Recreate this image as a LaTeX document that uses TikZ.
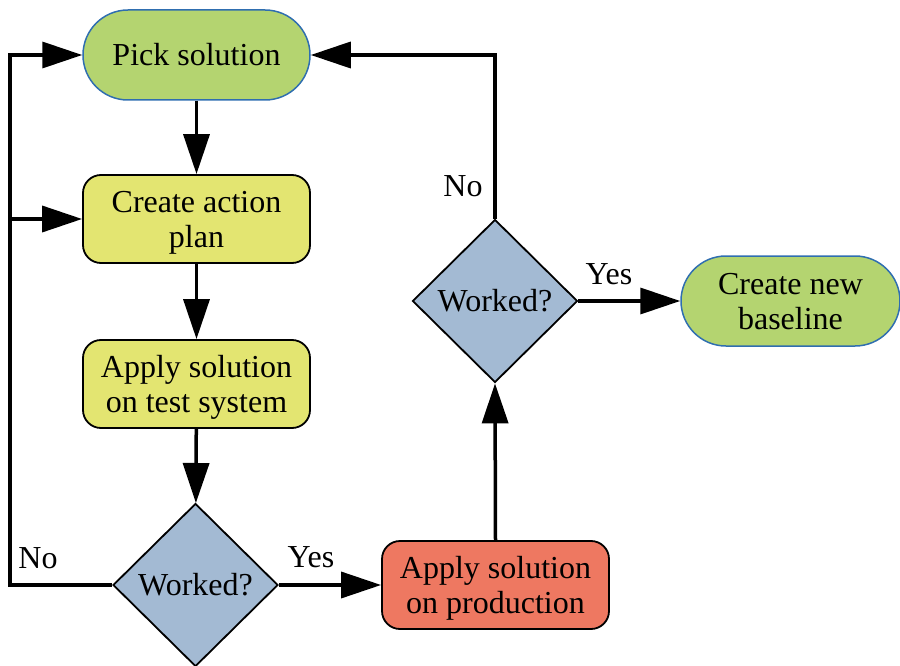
\documentclass[tikz,border=0pt]{standalone}
\usepackage{fontspec}
\setmainfont{Liberation Serif}
\usetikzlibrary{shapes.geometric,arrows.meta}

\definecolor{termgreen}{HTML}{B4D470}
\definecolor{termedge}{HTML}{2F6EB0}
\definecolor{stepyellow}{HTML}{E3E571}
\definecolor{decblue}{HTML}{A3BAD3}
\definecolor{prodred}{HTML}{EE7861}

\tikzset{
  every node/.style={font=\fontsize{32}{35}\selectfont, align=center, inner sep=0pt},
  twoline/.style={text height=63pt, text depth=7pt},
  terminal/.style={rectangle, rounded corners=45pt, minimum width=227pt, minimum height=90pt,
                   fill=termgreen, draw=termedge, line width=1.5pt},
  stepbox/.style={rectangle, rounded corners=18pt, minimum width=227pt, minimum height=88pt,
                  fill=stepyellow, draw=black, line width=1.8pt, twoline},
  decision/.style={diamond, minimum width=165pt, minimum height=163pt,
                   fill=decblue, draw=black, line width=1.8pt},
  arr/.style={line width=3.5pt, -{Triangle[length=40pt,width=26pt]}},
}

\begin{document}
\begin{tikzpicture}[x=1pt,y=-1pt]
  \useasboundingbox (0,0) rectangle (900,666);

  % process steps
  \node[terminal] (pick) at (196.5,55) {Pick solution};
  \node[stepbox] (plan) at (196.5,219) {Create action\\plan};
  \node[stepbox] (test) at (196.5,384) {Apply solution\\on test system};
  \node[decision] (d1) at (195.5,585) {Worked?};
  \node[stepbox, fill=prodred] (prod) at (495.5,585) {Apply solution\\on production};
  \node[decision] (d2) at (495,301) {Worked?};
  \node[terminal, twoline, minimum width=219pt] (base) at (790.5,301) {Create new\\baseline};

  % loop-back corners on the left
  \coordinate (lbot) at (10,585);
  \coordinate (ltop) at (10,55);
  \coordinate (lmid) at (10,219);

  % main flow
  \draw[arr] (pick) -- (plan);
  \draw[arr] (plan) -- (test);
  \draw[arr] (test) -- (d1);
  \draw[arr] (d1.east) -- (prod.west);
  \draw[arr] (prod.north) -- (d2.south);
  \draw[arr] (d2.east) -- (base.west);

  % "No" branches
  \draw[arr] (d1.west) -- (lbot) -- (ltop) -- (pick.west);
  \draw[arr] (lmid) -- (plan.west);
  \draw[arr] (d2.north) |- (pick.east);

  % branch labels
  \node (yes1) at (311,557) {Yes};
  \node (no1) at (38,558) {No};
  \node (yes2) at (609,274) {Yes};
  \node (no2) at (463,186) {No};
\end{tikzpicture}
\end{document}
